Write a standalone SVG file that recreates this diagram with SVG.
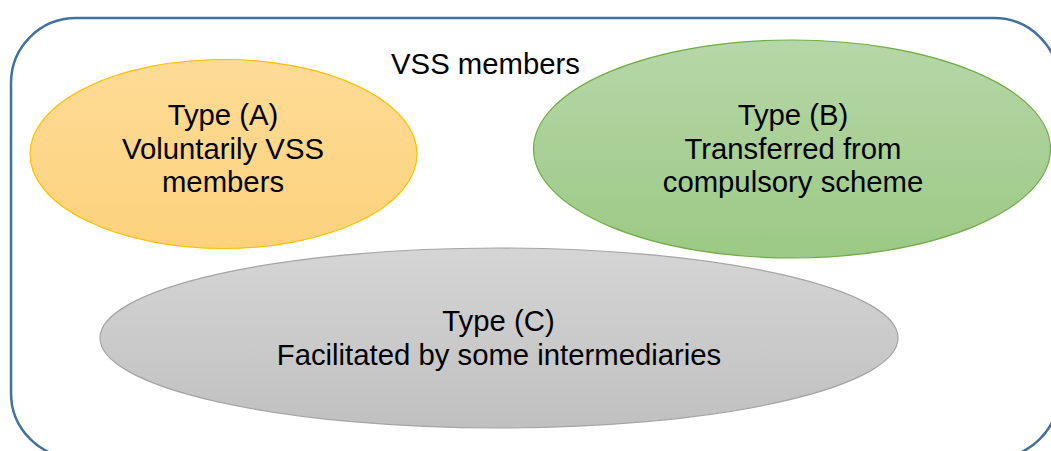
<svg xmlns="http://www.w3.org/2000/svg" width="1051" height="451" viewBox="0 0 1051 451">
  <defs>
    <linearGradient id="gA" x1="0" y1="0" x2="0" y2="1">
      <stop offset="0" stop-color="#FEDB96"/>
      <stop offset="1" stop-color="#FCD27C"/>
    </linearGradient>
    <linearGradient id="gB" x1="0" y1="0" x2="0" y2="1">
      <stop offset="0" stop-color="#B6D7A8"/>
      <stop offset="1" stop-color="#9CC985"/>
    </linearGradient>
    <linearGradient id="gC" x1="0" y1="0" x2="0" y2="1">
      <stop offset="0" stop-color="#D5D5D5"/>
      <stop offset="1" stop-color="#C0C0C0"/>
    </linearGradient>
  </defs>
  <style>
    text { font-family: "Liberation Sans", Arial, sans-serif; font-size: 29.3px; fill: #000; text-anchor: middle; }
    .frame { fill: #fff; stroke: #41719C; stroke-width: 2.5; }
  </style>
  <rect width="1051" height="451" fill="#fff"/>
  <g id="container">
    <rect class="frame" x="11" y="18" width="1048" height="440" rx="65" ry="65"/>
    <text x="485.5" y="74.3">VSS members</text>
  </g>
  <g id="connectors"></g>
  <g id="typeA">
    <ellipse cx="223.5" cy="154" rx="193.5" ry="94.5" fill="url(#gA)" stroke="#FFC000" stroke-width="1.2"/>
    <text x="223" y="125">Type (A)</text>
    <text x="223" y="158.5">Voluntarily VSS</text>
    <text x="223" y="192">members</text>
  </g>
  <g id="typeB">
    <ellipse cx="792" cy="149" rx="258.5" ry="109" fill="url(#gB)" stroke="#70AD47" stroke-width="1.2"/>
    <text x="793" y="124.5">Type (B)</text>
    <text x="793" y="158.5">Transferred from</text>
    <text x="793" y="192">compulsory scheme</text>
  </g>
  <g id="typeC">
    <ellipse cx="499" cy="338" rx="399" ry="90" fill="url(#gC)" stroke="#A5A5A5" stroke-width="1.2"/>
    <text x="498.5" y="331">Type (C)</text>
    <text x="499" y="365">Facilitated by some intermediaries</text>
  </g>
</svg>
